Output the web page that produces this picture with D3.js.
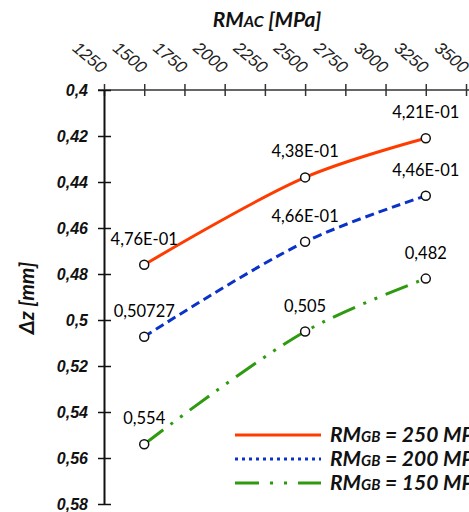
<!DOCTYPE html>
<html>
<head>
<meta charset="utf-8">
<script src="https://cdn.jsdelivr.net/npm/d3@7"></script>
<style>
  body { margin: 0; background: #fff; }
  svg { display: block; font-family: Lato, "Open Sans", sans-serif; }
</style>
</head>
<body>
<svg width="469" height="512"></svg>
<script>
// data
var rmac = [1500, 2500, 3250];
var dz250 = [0.476, 0.438, 0.421];
var dz200 = [0.50727, 0.466, 0.446];
var dz150 = [0.554, 0.505, 0.482];
var lab250 = ["4,76E-01", "4,38E-01", "4,21E-01"];
var lab200 = ["0,50727", "4,66E-01", "4,46E-01"];
var lab150 = ["0,554", "0,505", "0,482"];
var xTicks = [1250, 1500, 1750, 2000, 2250, 2500, 2750, 3000, 3250, 3500];
var yTicks = [0.4, 0.42, 0.44, 0.46, 0.48, 0.5, 0.52, 0.54, 0.56, 0.58];
var legendNames = ["250", "200", "150"];

var svg = d3.select("svg");

var x = d3.scaleLinear().domain([1250, 3500]).range([104, 466]);
var y = d3.scaleLinear().domain([0.4, 0.58]).range([90, 504]);

var comma = function(v) { return String(+v.toFixed(2)).replace(".", ","); };

// top axis
var xAxis = svg.append("g")
    .attr("transform", "translate(0,90)")
    .call(d3.axisTop(x).tickValues(xTicks).tickSize(6).tickSizeOuter(0).tickFormat(d3.format("d")));
xAxis.select(".domain").attr("d", "M98,0H469").attr("stroke", "#333").attr("stroke-width", 1.5);
xAxis.selectAll(".tick line").attr("y1", -6).attr("y2", 6).attr("stroke", "#333").attr("stroke-width", 1.5);
xAxis.selectAll(".tick text")
    .attr("y", 0).attr("dy", 0)
    .attr("text-anchor", "end")
    .attr("transform", "translate(-4,-16) rotate(40)")
    .attr("fill", "#222")
    .style("font-size", "17px")
    .style("font-style", "italic");

// left axis
var yAxis = svg.append("g")
    .attr("transform", "translate(104,0)")
    .call(d3.axisLeft(y).tickValues(yTicks).tickSize(6).tickSizeOuter(0).tickFormat(comma));
yAxis.select(".domain").attr("stroke", "#111").attr("stroke-width", 2);
yAxis.selectAll(".tick line").attr("x1", -6).attr("x2", 7).attr("stroke", "#111").attr("stroke-width", 1.5);
yAxis.selectAll(".tick text")
    .attr("x", -16)
    .attr("fill", "#111")
    .style("font-size", "16px")
    .style("font-weight", "bold")
    .style("font-style", "italic");

// axis titles
var xt = svg.append("text")
    .attr("x", 267).attr("y", 27)
    .attr("text-anchor", "middle")
    .style("font-weight", "bold").style("font-style", "italic")
    .style("font-size", "21px").attr("fill", "#111");
xt.append("tspan").text("RM");
xt.append("tspan").style("font-size", "16px").text("AC");
xt.append("tspan").text(" [MPa]");

svg.append("text")
    .attr("transform", "translate(34,298) rotate(-90)")
    .attr("text-anchor", "middle")
    .style("font-weight", "bold").style("font-style", "italic")
    .style("font-size", "21px").attr("fill", "#111")
    .text("\u0394z [mm]");

var series = [
  {vals: dz250, labs: lab250, color: "#FF3C00", dash: null, legDash: null},
  {vals: dz200, labs: lab200, color: "#0A32C8", dash: "9,5", legDash: "3,4"},
  {vals: dz150, labs: lab150, color: "#2E9A0F", dash: "24,9,3,9,3,9", legDash: "24,11,3,11,3,11"}
];

var line = d3.line()
    .x(function(d) { return x(d[0]); })
    .y(function(d) { return y(d[1]); })
    .curve(d3.curveCatmullRom.alpha(0.5));

series.forEach(function(s) {
  var pts = rmac.map(function(r, i) { return [r, s.vals[i]]; });
  svg.append("path")
      .datum(pts)
      .attr("fill", "none")
      .attr("stroke", s.color)
      .attr("stroke-width", 3)
      .attr("stroke-dasharray", s.dash)
      .attr("d", line);
  svg.selectAll(null)
      .data(pts).enter().append("circle")
      .attr("cx", function(d) { return x(d[0]); })
      .attr("cy", function(d) { return y(d[1]); })
      .attr("r", 4.5)
      .attr("fill", "#fff")
      .attr("stroke", "#111")
      .attr("stroke-width", 1.5);
  svg.selectAll(null)
      .data(pts).enter().append("text")
      .attr("x", function(d) { return x(d[0]); })
      .attr("y", function(d) { return y(d[1]) - 20; })
      .attr("text-anchor", "middle")
      .style("font-size", "16.5px")
      .attr("fill", "#000")
      .text(function(d, i) { return s.labs[i]; });
});

// legend (text runs past the right edge, as in the original)
var leg = svg.append("g");
series.forEach(function(s, i) {
  var ly = 435 + i * 24;
  leg.append("line")
      .attr("x1", 235).attr("x2", 321).attr("y1", ly).attr("y2", ly)
      .attr("stroke", s.color).attr("stroke-width", 3)
      .attr("stroke-dasharray", s.legDash);
  var t = leg.append("text")
      .attr("x", 330).attr("y", ly + 7)
      .style("font-weight", "bold").style("font-style", "italic")
      .style("font-size", "21px").attr("fill", "#111");
  t.append("tspan").text("RM");
  t.append("tspan").style("font-size", "15px").text("GB");
  t.append("tspan").text(" = " + legendNames[i] + " MPa");
});
</script>
</body>
</html>
